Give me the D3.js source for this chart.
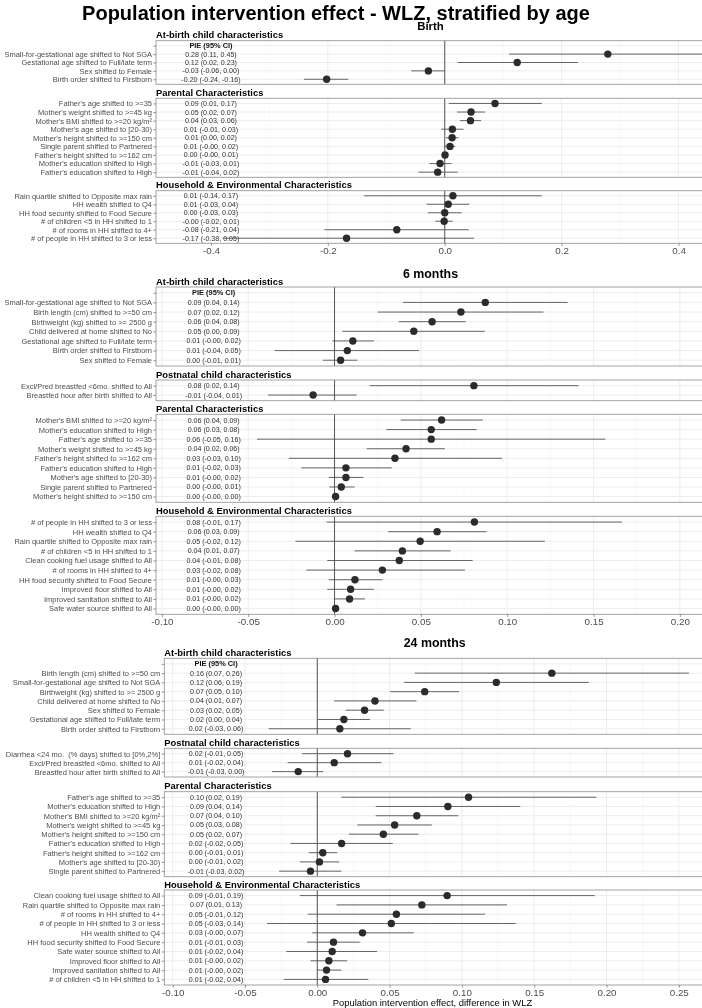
<!DOCTYPE html>
<html><head><meta charset="utf-8">
<script src="https://cdn.jsdelivr.net/npm/d3@7"></script>
<style>
body{margin:0;background:#fff;}
svg{filter:grayscale(1);}
text{font-family:"Liberation Sans",Arial,Helvetica,sans-serif;white-space:pre;}
</style>
</head><body>
<svg id="c" width="702" height="1008"></svg>
<script>
// ---------- DATA: [label, estimate, lower CI, upper CI, printed text] ----------
const birth_atBirth = [
  ["", null, null, null, "PIE (95% CI)"],
  ["Small-for-gestational age shifted to Not SGA", 0.279, 0.110, 0.45, "0.28 (0.11, 0.45)"],
  ["Gestational age shifted to Full/late term", 0.124, 0.022, 0.228, "0.12 (0.02, 0.23)"],
  ["Sex shifted to Female", -0.028, -0.057, 0.000, "-0.03 (-0.06, 0.00)"],
  ["Birth order shifted to Firstborn", -0.202, -0.241, -0.165, "-0.20 (-0.24, -0.16)"]
];
const birth_parental = [
  ["Father's age shifted to >=35", 0.086, 0.007, 0.166, "0.09 (0.01, 0.17)"],
  ["Mother's weight shifted to >=45 kg", 0.045, 0.021, 0.069, "0.05 (0.02, 0.07)"],
  ["Mother's BMI shifted to >=20 kg/m²", 0.044, 0.026, 0.062, "0.04 (0.03, 0.06)"],
  ["Mother's age shifted to [20-30)", 0.013, -0.006, 0.032, "0.01 (-0.01, 0.03)"],
  ["Mother's height shifted to >=150 cm", 0.0126, 0.002, 0.0235, "0.01 (0.00, 0.02)"],
  ["Single parent shifted to Partnered", 0.009, -0.001, 0.018, "0.01 (-0.00, 0.02)"],
  ["Father's height shifted to >=162 cm", 0.0005, -0.004, 0.006, "0.00 (-0.00, 0.01)"],
  ["Mother's education shifted to High", -0.008, -0.026, 0.0115, "-0.01 (-0.03, 0.01)"],
  ["Father's education shifted to High", -0.012, -0.045, 0.022, "-0.01 (-0.04, 0.02)"]
];
const birth_household = [
  ["Rain quartile shifted to Opposite max rain", 0.014, -0.138, 0.166, "0.01 (-0.14, 0.17)"],
  ["HH wealth shifted to Q4", 0.006, -0.031, 0.042, "0.01 (-0.03, 0.04)"],
  ["HH food security shifted to Food Secure", 0.000, -0.029, 0.029, "0.00 (-0.03, 0.03)"],
  ["# of children <5 in HH shifted to 1", -0.001, -0.016, 0.0137, "-0.00 (-0.02, 0.01)"],
  ["# of rooms in HH shifted to 4+", -0.082, -0.206, 0.041, "-0.08 (-0.21, 0.04)"],
  ["# of people in HH shifted to 3 or less", -0.168, -0.38, 0.050, "-0.17 (-0.38, 0.05)"]
];
const m6_atBirth = [
  ["", null, null, null, "PIE (95% CI)"],
  ["Small-for-gestational age shifted to Not SGA", 0.0873, 0.0397, 0.135, "0.09 (0.04, 0.14)"],
  ["Birth length (cm) shifted to >=50 cm", 0.0732, 0.025, 0.121, "0.07 (0.02, 0.12)"],
  ["Birthweight (kg) shifted to >= 2500 g", 0.0565, 0.0372, 0.076, "0.06 (0.04, 0.08)"],
  ["Child delivered at home shifted to No", 0.0459, 0.0045, 0.087, "0.05 (0.00, 0.09)"],
  ["Gestational age shifted to Full/late term", 0.0106, -0.0013, 0.0228, "0.01 (-0.00, 0.02)"],
  ["Birth order shifted to Firstborn", 0.0074, -0.0347, 0.049, "0.01 (-0.04, 0.05)"],
  ["Sex shifted to Female", 0.0035, -0.0068, 0.0132, "0.00 (-0.01, 0.01)"]
];
const m6_postnatal = [
  ["Excl/Pred breastfed <6mo. shifted to All", 0.0807, 0.0203, 0.1413, "0.08 (0.02, 0.14)"],
  ["Breastfed hour after birth shifted to All", -0.0124, -0.0385, 0.0128, "-0.01 (-0.04, 0.01)"]
];
const m6_parental = [
  ["Mother's BMI shifted to >=20 kg/m²", 0.062, 0.0383, 0.0858, "0.06 (0.04, 0.09)"],
  ["Mother's education shifted to High", 0.056, 0.030, 0.0823, "0.06 (0.03, 0.08)"],
  ["Father's age shifted to >=35", 0.056, -0.0449, 0.1568, "0.06 (-0.05, 0.16)"],
  ["Mother's weight shifted to >=45 kg", 0.0414, 0.0186, 0.0639, "0.04 (0.02, 0.06)"],
  ["Father's height shifted to >=162 cm", 0.035, -0.0265, 0.097, "0.03 (-0.03, 0.10)"],
  ["Father's education shifted to High", 0.0066, -0.0192, 0.0331, "0.01 (-0.02, 0.03)"],
  ["Mother's age shifted to [20-30)", 0.0066, -0.0033, 0.0167, "0.01 (-0.00, 0.02)"],
  ["Single parent shifted to Partnered", 0.0039, -0.003, 0.0116, "0.00 (-0.00, 0.01)"],
  ["Mother's height shifted to >=150 cm", 0.0006, -0.0004, 0.0016, "0.00 (-0.00, 0.00)"]
];
const m6_household = [
  ["# of people in HH shifted to 3 or less", 0.081, -0.0046, 0.1665, "0.08 (-0.01, 0.17)"],
  ["HH wealth shifted to Q4", 0.0594, 0.031, 0.088, "0.06 (0.03, 0.09)"],
  ["Rain quartile shifted to Opposite max rain", 0.0496, -0.0226, 0.1218, "0.05 (-0.02, 0.12)"],
  ["# of children <5 in HH shifted to 1", 0.0393, 0.0116, 0.0672, "0.04 (0.01, 0.07)"],
  ["Clean cooking fuel usage shifted to All", 0.0375, -0.0042, 0.080, "0.04 (-0.01, 0.08)"],
  ["# of rooms in HH shifted to 4+", 0.0277, -0.0163, 0.0755, "0.03 (-0.02, 0.08)"],
  ["HH food security shifted to Food Secure", 0.0118, -0.0033, 0.0277, "0.01 (-0.00, 0.03)"],
  ["Improved floor shifted to All", 0.0093, -0.0042, 0.0228, "0.01 (-0.00, 0.02)"],
  ["Improved sanitation shifted to All", 0.0087, -0.0004, 0.0176, "0.01 (-0.00, 0.02)"],
  ["Safe water source shifted to All", 0.0006, -0.0004, 0.0015, "0.00 (-0.00, 0.00)"]
];
const m24_atBirth = [
  ["", null, null, null, "PIE (95% CI)"],
  ["Birth length (cm) shifted to >=50 cm", 0.1622, 0.0674, 0.257, "0.16 (0.07, 0.26)"],
  ["Small-for-gestational age shifted to Not SGA", 0.1238, 0.060, 0.1878, "0.12 (0.06, 0.19)"],
  ["Birthweight (kg) shifted to >= 2500 g", 0.0743, 0.0503, 0.0981, "0.07 (0.05, 0.10)"],
  ["Child delivered at home shifted to No", 0.0399, 0.0115, 0.0686, "0.04 (0.01, 0.07)"],
  ["Sex shifted to Female", 0.0327, 0.0196, 0.0461, "0.03 (0.02, 0.05)"],
  ["Gestational age shifted to Full/late term", 0.0184, 0.0003, 0.0364, "0.02 (0.00, 0.04)"],
  ["Birth order shifted to Firstborn", 0.0156, -0.0336, 0.0646, "0.02 (-0.03, 0.06)"]
];
const m24_postnatal = [
  ["Diarrhea <24 mo.  (% days) shifted to [0%,2%]", 0.0209, -0.0105, 0.0526, "0.02 (-0.01, 0.05)"],
  ["Excl/Pred breastfed <6mo. shifted to All", 0.0117, -0.0205, 0.0443, "0.01 (-0.02, 0.04)"],
  ["Breastfed hour after birth shifted to All", -0.0132, -0.0313, 0.0041, "-0.01 (-0.03, 0.00)"]
];
const m24_parental = [
  ["Father's age shifted to >=35", 0.1046, 0.0166, 0.193, "0.10 (0.02, 0.19)"],
  ["Mother's education shifted to High", 0.0903, 0.0404, 0.1404, "0.09 (0.04, 0.14)"],
  ["Mother's BMI shifted to >=20 kg/m²", 0.0688, 0.0404, 0.0975, "0.07 (0.04, 0.10)"],
  ["Mother's weight shifted to >=45 kg", 0.0535, 0.0277, 0.0792, "0.05 (0.03, 0.08)"],
  ["Mother's height shifted to >=150 cm", 0.0457, 0.0219, 0.070, "0.05 (0.02, 0.07)"],
  ["Father's education shifted to High", 0.0168, -0.0186, 0.0522, "0.02 (-0.02, 0.05)"],
  ["Father's height shifted to >=162 cm", 0.0038, -0.0059, 0.0138, "0.00 (-0.01, 0.01)"],
  ["Mother's age shifted to [20-30)", 0.0015, -0.0121, 0.0152, "0.00 (-0.01, 0.02)"],
  ["Single parent shifted to Partnered", -0.0047, -0.0264, 0.0166, "-0.01 (-0.03, 0.02)"]
];
const m24_household = [
  ["Clean cooking fuel usage shifted to All", 0.0898, -0.0121, 0.1918, "0.09 (-0.01, 0.19)"],
  ["Rain quartile shifted to Opposite max rain", 0.0723, 0.0133, 0.1312, "0.07 (0.01, 0.13)"],
  ["# of rooms in HH shifted to 4+", 0.0547, -0.0066, 0.116, "0.05 (-0.01, 0.12)"],
  ["# of people in HH shifted to 3 or less", 0.0512, -0.0347, 0.1372, "0.05 (-0.03, 0.14)"],
  ["HH wealth shifted to Q4", 0.0313, -0.0035, 0.0667, "0.03 (-0.00, 0.07)"],
  ["HH food security shifted to Food Secure", 0.0112, -0.007, 0.0293, "0.01 (-0.01, 0.03)"],
  ["Safe water source shifted to All", 0.0103, -0.0214, 0.0413, "0.01 (-0.02, 0.04)"],
  ["Improved floor shifted to All", 0.008, -0.0047, 0.0207, "0.01 (-0.00, 0.02)"],
  ["Improved sanitation shifted to All", 0.0064, -0.0001, 0.0166, "0.01 (-0.00, 0.02)"],
  ["# of children <5 in HH shifted to 1", 0.0057, -0.0232, 0.0353, "0.01 (-0.02, 0.04)"]
];
const birthTicks = [-0.4, -0.2, 0, 0.2, 0.4];
const m6Ticks = [-0.10, -0.05, 0, 0.05, 0.10, 0.15, 0.20];
const m24Ticks = [-0.10, -0.05, 0, 0.05, 0.10, 0.15, 0.20, 0.25];
const panelNames = ["At-birth child characteristics", "Postnatal child characteristics",
  "Parental Characteristics", "Household & Environmental Characteristics"];
const mainTitle = "Population intervention effect - WLZ, stratified by age";
const xTitle = "Population intervention effect, difference in WLZ";

// ---------- LAYOUT ----------
const sections = [
  {title: "Birth", titleY: 29.5, domain: [-0.494, 0.441], x0: 156, x1: 702.5, ticks: birthTicks, fmt: ".1f", labelX: -0.4,
   panels: [{name: panelNames[0], rows: birth_atBirth, top: 40.7, bottom: 84.3},
            {name: panelNames[2], rows: birth_parental, top: 98.3, bottom: 177.3},
            {name: panelNames[3], rows: birth_household, top: 190.7, bottom: 243.3}]},
  {title: "6 months", titleY: 277.5, domain: [-0.1034, 0.2131], x0: 156, x1: 702.5, ticks: m6Ticks, fmt: ".2f", labelX: -0.07,
   panels: [{name: panelNames[0], rows: m6_atBirth, top: 287, bottom: 366},
            {name: panelNames[1], rows: m6_postnatal, top: 380, bottom: 400.7},
            {name: panelNames[2], rows: m6_parental, top: 414.3, bottom: 502.3},
            {name: panelNames[3], rows: m6_household, top: 516.3, bottom: 614.3}]},
  {title: "24 months", titleY: 646.5, domain: [-0.1058, 0.2664], x0: 164.3, x1: 702.5, ticks: m24Ticks, fmt: ".2f", labelX: -0.07,
   panels: [{name: panelNames[0], rows: m24_atBirth, top: 658.3, bottom: 734.3},
            {name: panelNames[1], rows: m24_postnatal, top: 748.3, bottom: 777},
            {name: panelNames[2], rows: m24_parental, top: 791.7, bottom: 876.7},
            {name: panelNames[3], rows: m24_household, top: 890, bottom: 985}],
   xTitle: true}
];

const svg = d3.select("#c");
svg.append("rect").attr("width", 702).attr("height", 1008).attr("fill", "#fff");

svg.append("text").attr("x", 336).attr("y", 20).attr("text-anchor", "middle")
  .attr("font-size", 20).attr("font-weight", "bold").attr("fill", "#000").text(mainTitle);

const hyph = s => s.replace(/\u2212/g, "-");

sections.forEach((sec, si) => {
  const x = d3.scaleLinear().domain(sec.domain).range([sec.x0, sec.x1]).clamp(true);
  const xc = (sec.x0 + Math.min(sec.x1, 701)) / 2 + 2;
  svg.append("text").attr("x", xc).attr("y", sec.titleY).attr("text-anchor", "middle")
    .attr("font-size", si === 0 ? 11.4 : 12.4).attr("font-weight", "bold").attr("fill", "#000").text(sec.title);

  const t = sec.ticks, st = t[1] - t[0];
  const minor = [];
  for (let v = t[0] - st / 2; v <= sec.domain[1] + 1e-9; v += st) if (v >= sec.domain[0]) minor.push(v);

  sec.panels.forEach((p, pi) => {
    const n = p.rows.length;
    const y = d3.scalePoint().domain(d3.range(n)).range([p.top, p.bottom]).padding(0.6);
    const g = svg.append("g");
    const w = sec.x1 - sec.x0;
    g.append("rect").attr("x", sec.x0).attr("y", p.top).attr("width", w).attr("height", p.bottom - p.top).attr("fill", "#fff");
    g.selectAll(".mn").data(minor).join("line")
      .attr("x1", d => x(d)).attr("x2", d => x(d)).attr("y1", p.top).attr("y2", p.bottom)
      .attr("stroke", "#f3f3f3").attr("stroke-width", 0.5);
    g.selectAll(".mj").data(t).join("line")
      .attr("x1", d => x(d)).attr("x2", d => x(d)).attr("y1", p.top).attr("y2", p.bottom)
      .attr("stroke", "#ebebeb").attr("stroke-width", 0.9);
    g.selectAll(".hg").data(d3.range(n)).join("line")
      .attr("x1", sec.x0).attr("x2", sec.x1).attr("y1", d => y(d)).attr("y2", d => y(d))
      .attr("stroke", "#ebebeb").attr("stroke-width", 0.9);
    g.append("line").attr("x1", x(0)).attr("x2", x(0)).attr("y1", p.top).attr("y2", p.bottom)
      .attr("stroke", "#444").attr("stroke-width", 0.9);
    const rows = p.rows.map((r, i) => ({i, label: r[0], est: r[1], lo: r[2], hi: r[3], txt: r[4]}));
    const dataRows = rows.filter(r => r.est !== null);
    g.selectAll(".lt").data(rows).join("text")
      .attr("x", x(sec.labelX)).attr("y", d => y(d.i)).attr("dy", "0.35em").attr("text-anchor", "middle")
      .attr("font-size", d => d.est === null ? 7.4 : 7.1)
      .attr("font-weight", d => d.est === null ? "bold" : "normal")
      .attr("fill", d => d.est === null ? "#111" : "#333").text(d => d.txt);
    g.selectAll(".ci").data(dataRows).join("line")
      .attr("x1", d => x(d.lo)).attr("x2", d => x(d.hi)).attr("y1", d => y(d.i)).attr("y2", d => y(d.i))
      .attr("stroke", "#555").attr("stroke-width", 0.9);
    g.selectAll(".pt").data(dataRows).join("circle")
      .attr("cx", d => x(d.est)).attr("cy", d => y(d.i)).attr("r", 3.7).attr("fill", "#2b2b2b");
    g.append("rect").attr("x", sec.x0).attr("y", p.top).attr("width", w).attr("height", p.bottom - p.top)
      .attr("fill", "none").attr("stroke", "#999").attr("stroke-width", 0.9);
    const ya = g.append("g").attr("transform", `translate(${sec.x0},0)`)
      .call(d3.axisLeft(y).tickSize(2.7).tickPadding(1.3).tickFormat(i => p.rows[i][0]));
    ya.select(".domain").remove();
    ya.selectAll("line").attr("stroke", "#555").attr("stroke-width", 0.6);
    ya.selectAll("text").attr("font-size", 7.5).attr("fill", "#4d4d4d").attr("font-family", null);
    g.append("text").attr("x", sec.x0).attr("y", p.top - 2.3).attr("font-size", 9.4).attr("font-weight", "bold")
      .attr("fill", "#000").text(p.name);
    if (pi === sec.panels.length - 1) {
      const xa = g.append("g").attr("transform", `translate(0,${p.bottom})`)
        .call(d3.axisBottom(x).tickValues(t).tickSize(2.7).tickPadding(1.5).tickFormat(v => hyph(d3.format(sec.fmt)(v))));
      xa.select(".domain").remove();
      xa.selectAll("line").attr("stroke", "#555").attr("stroke-width", 0.6);
      xa.selectAll("text").attr("font-size", 9.8).attr("fill", "#4d4d4d").attr("font-family", null);
      if (sec.xTitle) {
        svg.append("text").attr("x", 432.5).attr("y", p.bottom + 20.6).attr("text-anchor", "middle")
          .attr("font-size", 9.4).attr("fill", "#000").text(xTitle);
      }
    }
  });
});
</script>
</body></html>
